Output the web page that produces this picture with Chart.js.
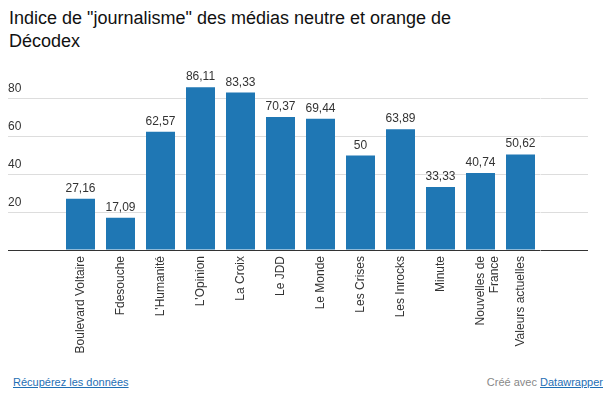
<!DOCTYPE html>
<html lang="fr">
<head>
<meta charset="utf-8">
<script src="https://cdn.jsdelivr.net/npm/chart.js@4/dist/chart.umd.min.js"></script>
<style>
  html, body { margin: 0; padding: 0; background: #fff; }
  body { width: 615px; height: 398px; position: relative; overflow: hidden; font-family: "Liberation Sans", Arial, Helvetica, sans-serif; }
  h1 { position: absolute; left: 9px; top: 7px; width: 480px; margin: 0; font-size: 18px; line-height: 23px; font-weight: normal; color: #111; }
  #wrap { position: absolute; left: 0; top: 0; width: 615px; height: 365px; }
  .footer { position: absolute; top: 376px; font-size: 11px; line-height: 13px; }
  .footer a { color: #1f6fb5; text-decoration: underline; }
  #src { left: 13px; }
  #credit { right: 12px; color: #888; }
</style>
</head>
<body>
<h1>Indice de "journalisme" des médias neutre et orange de Décodex</h1>
<div id="wrap"><canvas id="graphique"></canvas></div>
<div class="footer" id="src"><a href="#">Récupérez les données</a></div>
<div class="footer" id="credit">Créé avec <a href="#">Datawrapper</a></div>

<script>
// donnees
const medias = ["Boulevard Voltaire", "Fdesouche", "L'Humanité", "L'Opinion", "La Croix", "Le JDD",
    "Le Monde", "Les Crises", "Les Inrocks", "Minute", ["Nouvelles de", "France"], "Valeurs actuelles"];
const indices = [27.16, 17.09, 62.57, 86.11, 83.33, 70.37, 69.44, 50, 63.89, 33.33, 40.74, 50.62];
const graduations = [0, 20, 40, 60, 80];

const police = "'Liberation Sans', Arial, Helvetica, sans-serif";

// etiquettes au dessus des barres
const etiquettes = {
    id: "etiquettes",
    afterDatasetsDraw(chart) {
        const ctx = chart.ctx;
        const meta = chart.getDatasetMeta(0);
        ctx.save();
        ctx.font = "12px " + police;
        ctx.fillStyle = "#333";
        ctx.textAlign = "center";
        ctx.textBaseline = "alphabetic";
        meta.data.forEach(function (barre, i) {
            const texte = String(indices[i]).replace(".", ",");
            ctx.fillText(texte, barre.x, barre.y - 7);
        });
        ctx.restore();
    }
};

function couleurGrille(c) {
    return c.tick && c.tick.value === 0 ? "#333" : "#ddd";
}

function fixerGraduations(axe) {
    axe.ticks = graduations.map(v => ({ value: v }));
}

const ctx = document.getElementById("graphique").getContext("2d");
new Chart(ctx, {
    type: "bar",
    data: {
        labels: medias,
        datasets: [{
            data: indices,
            backgroundColor: "#1f77b4",
            barPercentage: 0.725,
            categoryPercentage: 1
        }]
    },
    options: {
        responsive: true,
        maintainAspectRatio: false,
        animation: false,
        layout: { padding: { top: 80, left: 8, right: 27, bottom: 0 } },
        plugins: { legend: { display: false }, tooltip: { enabled: false } },
        scales: {
            x: {
                grid: { display: false, drawTicks: false },
                border: { display: false },
                afterFit(axe) { axe.height = 115; },
                ticks: {
                    autoSkip: false,
                    minRotation: 90,
                    maxRotation: 90,
                    padding: 6,
                    color: "#333",
                    font: { family: police, size: 12 }
                }
            },
            y: {
                min: 0,
                max: 90,
                position: "left",
                afterBuildTicks: fixerGraduations,
                afterFit(axe) { axe.width = 52.5; },
                border: { display: false },
                grid: { color: couleurGrille, tickColor: couleurGrille, tickLength: 52.5 },
                ticks: {
                    callback: v => (v === 0 ? "" : v),
                    crossAlign: "far",
                    labelOffset: -10,
                    color: "#333",
                    font: { family: police, size: 12 }
                }
            },
            y2: {
                min: 0,
                max: 90,
                position: "right",
                afterBuildTicks: fixerGraduations,
                afterFit(axe) { axe.width = 47.5; },
                border: { display: false },
                grid: { drawOnChartArea: false, color: couleurGrille, tickColor: couleurGrille, tickLength: 47.5 },
                ticks: { display: false }
            }
        }
    },
    plugins: [etiquettes]
});
</script>
</body>
</html>
